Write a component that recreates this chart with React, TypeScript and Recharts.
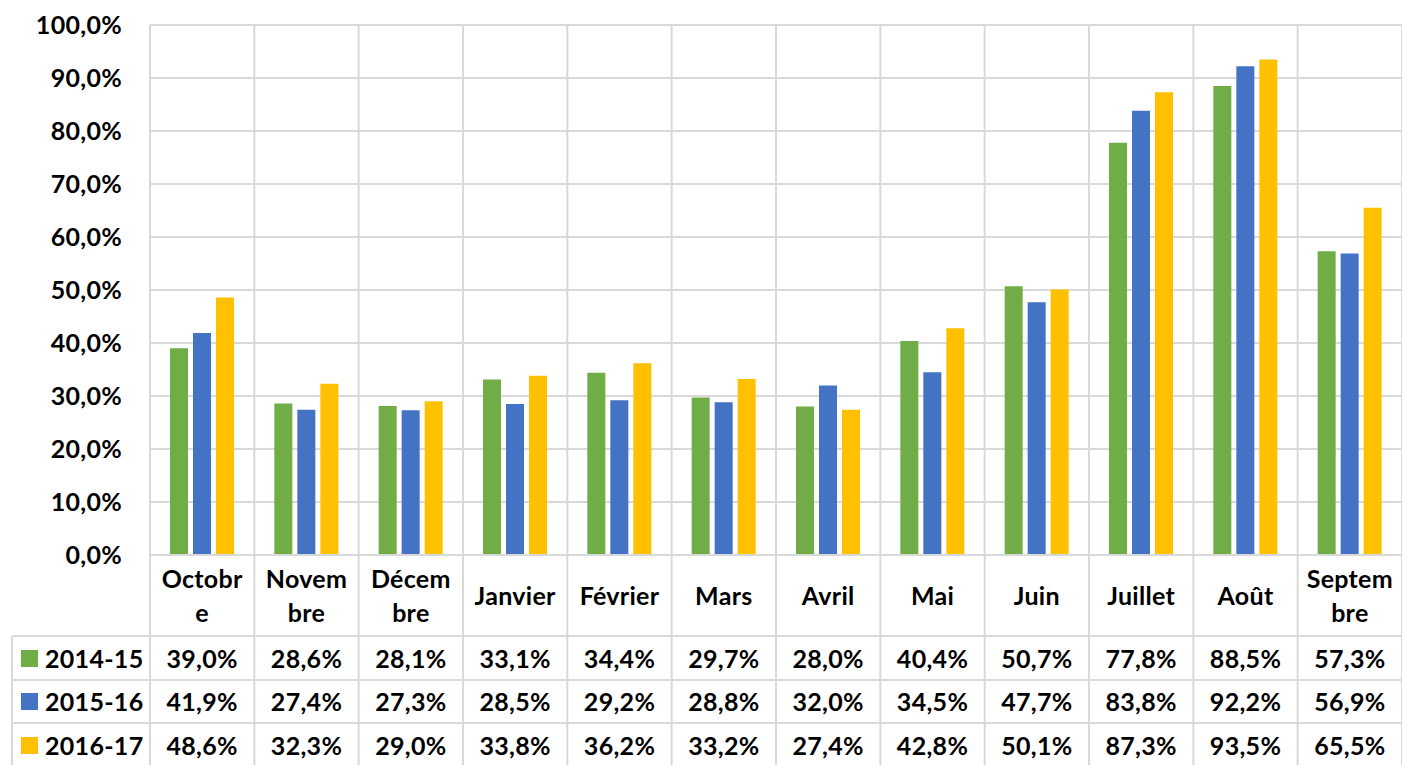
import React from 'react';
import { BarChart, Bar, XAxis, YAxis, CartesianGrid } from 'recharts';

const months = ['Octobre', 'Novembre', 'Décembre', 'Janvier', 'Février', 'Mars', 'Avril', 'Mai', 'Juin', 'Juillet', 'Août', 'Septembre'];
// how each month label wraps in its narrow table cell
const monthLines = [
  ['Octobr', 'e'], ['Novem', 'bre'], ['Décem', 'bre'], ['Janvier'], ['Février'], ['Mars'],
  ['Avril'], ['Mai'], ['Juin'], ['Juillet'], ['Août'], ['Septem', 'bre'],
];
const s2014 = [39.0, 28.6, 28.1, 33.1, 34.4, 29.7, 28.0, 40.4, 50.7, 77.8, 88.5, 57.3];
const s2015 = [41.9, 27.4, 27.3, 28.5, 29.2, 28.8, 32.0, 34.5, 47.7, 83.8, 92.2, 56.9];
const s2016 = [48.6, 32.3, 29.0, 33.8, 36.2, 33.2, 27.4, 42.8, 50.1, 87.3, 93.5, 65.5];
const seriesNames = ['2014-15', '2015-16', '2016-17'];
const seriesKeys = ['a', 'b', 'c'];
const seriesValues = [s2014, s2015, s2016];
const seriesColors = ['#70AD47', '#4472C4', '#FFC000'];
const yTicks = [0, 10, 20, 30, 40, 50, 60, 70, 80, 90, 100];

const data = months.map((m, i) => ({ name: m, a: s2014[i], b: s2015[i], c: s2016[i] }));

const FONT = 'Lato, "Open Sans", sans-serif';
const FS = 25;
const LS = 0.3;
const GRID = '#d9d9d9';
const fmt = (v: number) => v.toFixed(1).replace('.', ',') + '%';

// offsets below the x axis line for the data table
const ROW_LINES = [81, 125, 168, 211];
const ROW_CENTERS = [103, 146, 190];

const txt = { fontFamily: FONT, fontWeight: 700, fontSize: FS, fill: '#000', letterSpacing: LS };

const TableTick = (props: any) => {
  const { x, y, payload } = props;
  const idx = payload.index;
  const half = payload.offset || 0;
  const left = x - half;
  const right = x + half;
  const lines = monthLines[idx] || [payload.value];
  const labelYs = lines.length === 2 ? [23, 57] : [40];
  return (
    <g>
      <line x1={left} y1={y} x2={left} y2={y + 220} stroke={GRID} strokeWidth={2} />
      {idx === months.length - 1 && <line x1={right} y1={y} x2={right} y2={y + 220} stroke={GRID} strokeWidth={2} />}
      {ROW_LINES.map((dy) => (
        <line key={dy} x1={left} y1={y + dy} x2={right} y2={y + dy} stroke={GRID} strokeWidth={2} />
      ))}
      {lines.map((t, k) => (
        <text key={k} x={x} y={y + labelYs[k]} textAnchor="middle" dominantBaseline="central" {...txt}>{t}</text>
      ))}
      {seriesValues.map((vals, r) => (
        <text key={r} x={x} y={y + ROW_CENTERS[r]} textAnchor="middle" dominantBaseline="central" {...txt}>
          {fmt(vals[idx])}
        </text>
      ))}
      {idx === 0 && (
        <g>
          <line x1={12} y1={y + ROW_LINES[0]} x2={12} y2={y + 220} stroke={GRID} strokeWidth={2} />
          {ROW_LINES.map((dy) => (
            <line key={dy} x1={12} y1={y + dy} x2={left} y2={y + dy} stroke={GRID} strokeWidth={2} />
          ))}
          {seriesNames.map((n, r) => (
            <g key={n}>
              <rect x={21} y={y + ROW_CENTERS[r] - 8} width={17} height={17} fill={seriesColors[r]} />
              <text x={45} y={y + ROW_CENTERS[r]} textAnchor="start" dominantBaseline="central" {...txt}>{n}</text>
            </g>
          ))}
        </g>
      )}
    </g>
  );
};

export default function App() {
  return (
    <div style={{ position: 'absolute', left: 0, top: 0, width: 1402, height: 765, background: '#fff' }}>
      <BarChart
        width={1402}
        height={765}
        data={data}
        margin={{ top: 25, right: 0, left: 0, bottom: 0 }}
        barGap={5}
        barCategoryGap="19%"
      >
        <CartesianGrid
          stroke={GRID}
          strokeWidth={2}
          verticalCoordinatesGenerator={({ offset }: any) =>
            months.map((_, i) => offset.left + (i * offset.width) / months.length).concat(offset.left + offset.width)
          }
        />
        <XAxis
          dataKey="name"
          height={210}
          interval={0}
          tickLine={false}
          tickSize={0}
          tickMargin={0}
          axisLine={{ stroke: GRID, strokeWidth: 2 }}
          tick={<TableTick />}
        />
        <YAxis
          width={150}
          domain={[0, 100]}
          ticks={yTicks}
          tickFormatter={fmt}
          axisLine={false}
          tickLine={false}
          tickSize={0}
          tickMargin={28}
          tick={txt}
        />
        {seriesKeys.map((k, i) => (
          <Bar key={k} dataKey={k} name={seriesNames[i]} fill={seriesColors[i]} barSize={18} isAnimationActive={false} />
        ))}
      </BarChart>
    </div>
  );
}
